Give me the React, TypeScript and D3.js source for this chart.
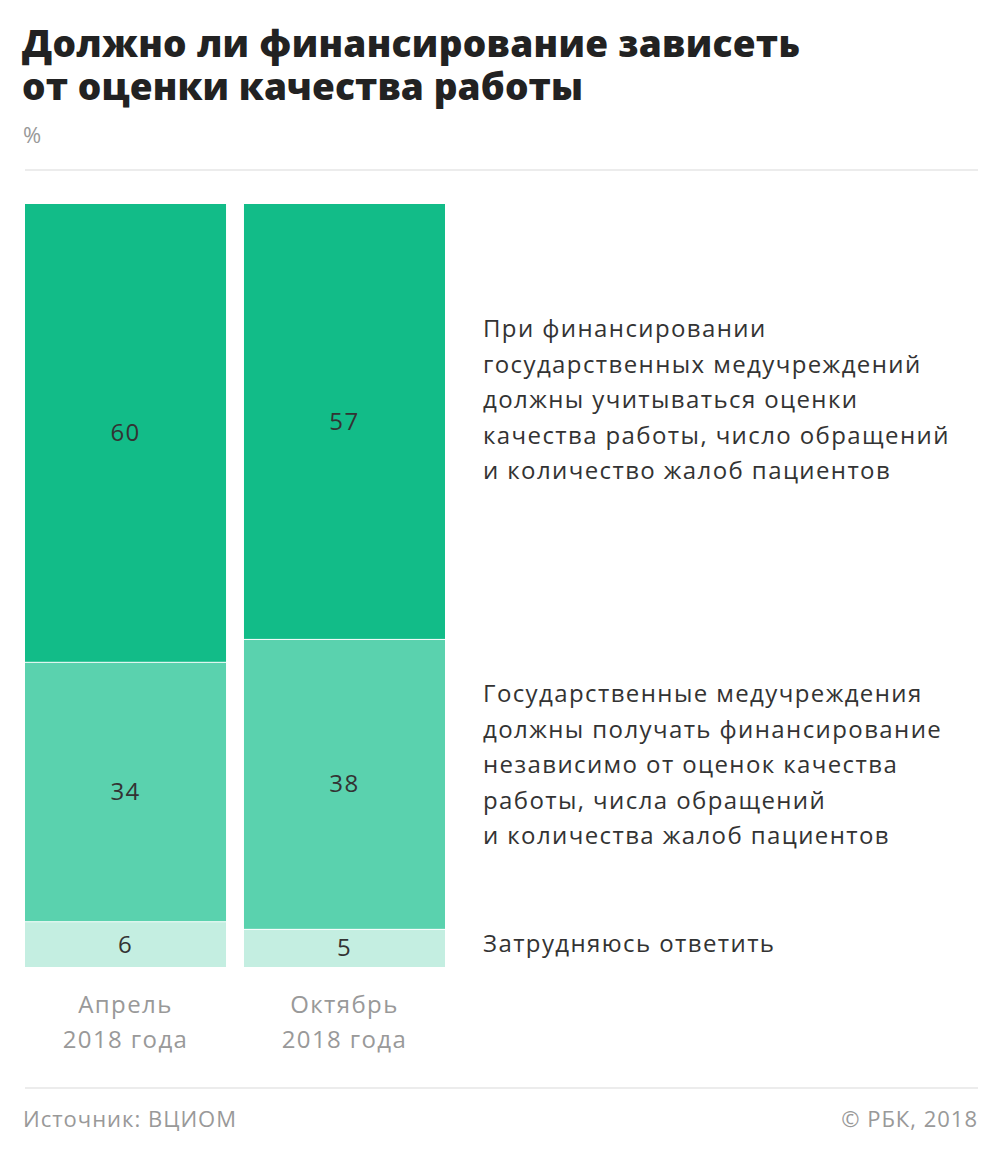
import React from "react";
import * as d3 from "d3";

const categories = ["Апрель\n2018 года", "Октябрь\n2018 года"];
const seriesNames = [
  "При финансировании\nгосударственных медучреждений\nдолжны учитываться оценки\nкачества работы, число обращений\nи количество жалоб пациентов",
  "Государственные медучреждения\nдолжны получать финансирование\nнезависимо от оценок качества\nработы, числа обращений\nи количества жалоб пациентов",
  "Затрудняюсь ответить",
];
const valuesFor = [60, 57];
const valuesIndependent = [34, 38];
const valuesHard = [6, 5];
const colors = ["#12bc88", "#5ad2ae", "#c4eee1"];

const W = 1005;
const H = 1150;

export default function App() {
  const series = [valuesFor, valuesIndependent, valuesHard];
  const x = d3.scaleBand<string>().domain(categories).range([25, 445]).paddingInner(0.082).paddingOuter(0);
  const y = d3.scaleLinear().domain([0, 100]).range([204, 967]);
  const stacked = categories.map((c, i) => {
    let acc = 0;
    return series.map((s, k) => {
      const y0 = acc;
      acc += s[i];
      return { k, v: s[i], y0, y1: acc };
    });
  });
  const font = "'Open Sans', sans-serif";
  const legendY = [400, 765, 944];
  const ls = 1.4;
  return (
    <svg width={W} height={H} style={{ display: "block", position: "absolute", left: 0, top: 0 }} fontFamily={font}>
      <rect width={W} height={H} fill="#fff" />
      <text fontSize={37} fontWeight={800} fill="#222">
        <tspan x={22} y={57} letterSpacing={0.3}>Должно ли финансирование зависеть</tspan>
        <tspan x={22} y={100} letterSpacing={0.1}>от оценки качества работы</tspan>
      </text>
      <text x={23} y={143} fontSize={22} fill="#999">%</text>
      <line x1={25} x2={978} y1={170} y2={170} stroke="#e6e6e6" strokeWidth={1.5} />
      {categories.map((c, i) => (
        <g key={c}>
          {stacked[i].map((d) => (
            <g key={d.k}>
              <rect
                x={x(c)!}
                width={x.bandwidth()}
                y={y(d.y0) + (d.k > 0 ? 1 : 0)}
                height={y(d.y1) - y(d.y0) - (d.k > 0 ? 1 : 0)}
                fill={colors[d.k]}
              />
              <text
                x={x(c)! + x.bandwidth() / 2}
                y={(y(d.y0) + y(d.y1)) / 2}
                dy="0.35em"
                textAnchor="middle"
                fontSize={24}
                letterSpacing={ls}
                fill="#333"
              >
                {d.v}
              </text>
            </g>
          ))}
          {c.split("\n").map((line, j) => (
            <text key={j} x={x(c)! + x.bandwidth() / 2} y={1013 + j * 35} textAnchor="middle" fontSize={24} letterSpacing={ls} fill="#999">
              {line}
            </text>
          ))}
        </g>
      ))}
      {seriesNames.map((name, k) => {
        const lines = name.split("\n");
        const start = legendY[k] - ((lines.length - 1) * 35.5) / 2;
        return lines.map((line, j) => (
          <text key={k + "-" + j} x={483} y={start + j * 35.5} dy="0.35em" fontSize={24} letterSpacing={ls} fill="#333">
            {line}
          </text>
        ));
      })}
      <line x1={25} x2={978} y1={1088} y2={1088} stroke="#e6e6e6" strokeWidth={1.5} />
      <text x={23} y={1127} fontSize={22} letterSpacing={1} fill="#999">Источник: ВЦИОМ</text>
      <text x={978} y={1127} fontSize={22} letterSpacing={1} fill="#999" textAnchor="end">© РБК, 2018</text>
    </svg>
  );
}
